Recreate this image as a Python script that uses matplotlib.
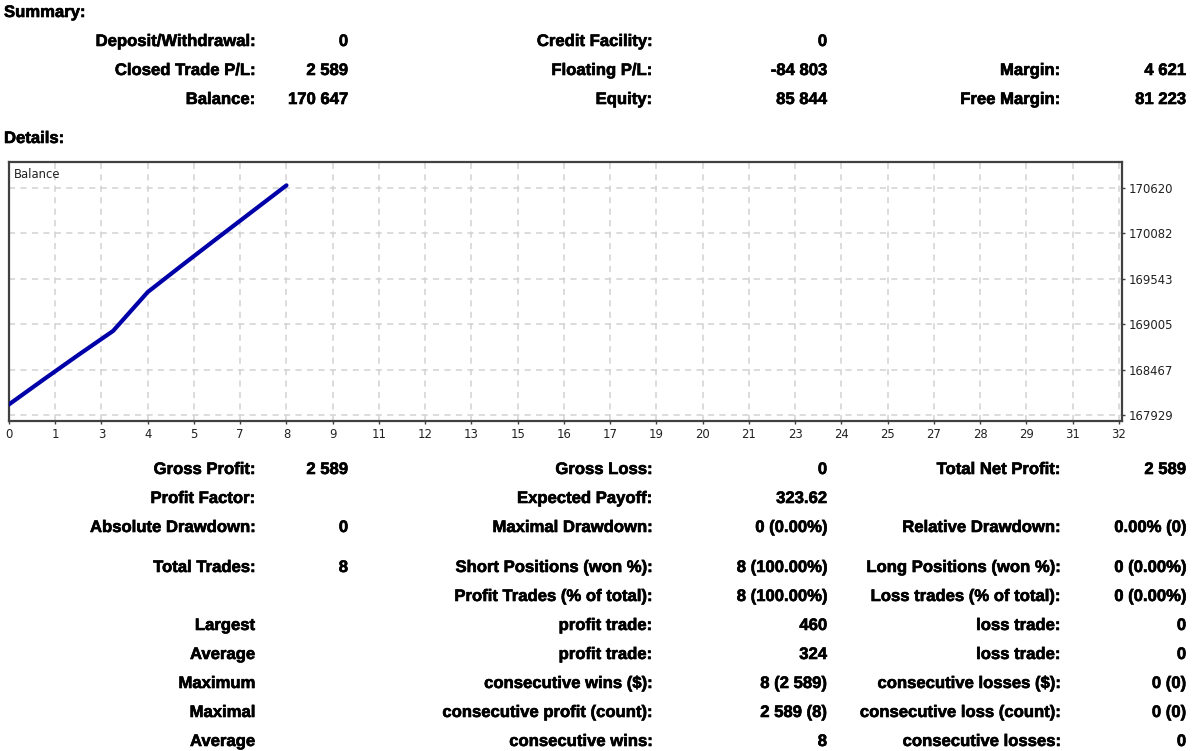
import matplotlib
matplotlib.use("Agg")
import matplotlib.pyplot as plt
import matplotlib.patheffects as pe
from matplotlib.ticker import FixedLocator, FixedFormatter

W, H = 1200, 751

# balance curve: deposit balance before trading and profit of each closed trade
start_balance = 168058
trade_profits = [295, 290, 283, 460, 320, 315, 313, 313]
trade_index = list(range(len(trade_profits) + 1))

x_ticks = [i * 4 / 3 for i in range(25)]
x_tick_labels = ["0", "1", "3", "4", "5", "7", "8", "9", "11", "12", "13", "15", "16",
                 "17", "19", "20", "21", "23", "24", "25", "27", "28", "29", "31", "32"]
y_ticks = [167929, 168467, 169005, 169543, 170082, 170620]

summary_rows = [
    ["Deposit/Withdrawal:", "0", "Credit Facility:", "0", "", ""],
    ["Closed Trade P/L:", "2 589", "Floating P/L:", "-84 803", "Margin:", "4 621"],
    ["Balance:", "170 647", "Equity:", "85 844", "Free Margin:", "81 223"],
]

details_rows = [
    ["Gross Profit:", "2 589", "Gross Loss:", "0", "Total Net Profit:", "2 589"],
    ["Profit Factor:", "", "Expected Payoff:", "323.62", "", ""],
    ["Absolute Drawdown:", "0", "Maximal Drawdown:", "0 (0.00%)", "Relative Drawdown:", "0.00% (0)"],
    ["Total Trades:", "8", "Short Positions (won %):", "8 (100.00%)", "Long Positions (won %):", "0 (0.00%)"],
    ["", "", "Profit Trades (% of total):", "8 (100.00%)", "Loss trades (% of total):", "0 (0.00%)"],
    ["Largest", "", "profit trade:", "460", "loss trade:", "0"],
    ["Average", "", "profit trade:", "324", "loss trade:", "0"],
    ["Maximum", "", "consecutive wins ($):", "8 (2 589)", "consecutive losses ($):", "0 (0)"],
    ["Maximal", "", "consecutive profit (count):", "2 589 (8)", "consecutive loss (count):", "0 (0)"],
    ["Average", "", "consecutive wins:", "8", "consecutive losses:", "0"],
]

FONT = ["Liberation Sans", "DejaVu Sans"]
TICK_FONT = ["DejaVu Sans"]
col_right = [255, 348, 652, 827, 1060, 1186]
summary_y = [46, 75, 104]
details_y = [474, 503, 532, 572, 601, 630, 659, 688, 717, 746]

balance = [start_balance]
for p in trade_profits:
    balance.append(balance[-1] + p)

fig = plt.figure(figsize=(W / 100, H / 100), dpi=100)
bold = [pe.withStroke(linewidth=0.45, foreground="black")]


def put(text, x, y, ha="right"):
    # y is the baseline in pixels from the top
    fig.text(x / W, 1 - y / H, text, ha=ha, va="baseline", fontsize=12.0,
             fontweight="bold", family=FONT, color="black", path_effects=bold)


put("Summary:", 4, 17, ha="left")
put("Details:", 4, 143, ha="left")
for row, y in zip(summary_rows, summary_y):
    for text, x in zip(row, col_right):
        if text:
            put(text, x, y)
for row, y in zip(details_rows, details_y):
    for text, x in zip(row, col_right):
        if text:
            put(text, x, y)

# balance chart
left, right, top, bottom = 9, 1122, 162, 421
ax = fig.add_axes([left / W, 1 - bottom / H, (right - left) / W, (bottom - top) / H])
ax.plot(trade_index, balance, color="#0000A8", lw=3.0, solid_capstyle="round",
        solid_joinstyle="round", zorder=3)
ax.set_xlim(0, 32.09)
ax.set_ylim(167862, 170923)

ax.xaxis.set_major_locator(FixedLocator(x_ticks))
ax.xaxis.set_major_formatter(FixedFormatter(x_tick_labels))
ax.yaxis.set_major_locator(FixedLocator(y_ticks))
ax.yaxis.tick_right()
ax.tick_params(axis="both", length=2, width=1, color="#404040", labelsize=8.4,
               labelcolor="#202020", pad=3)
for lab in ax.get_xticklabels() + ax.get_yticklabels():
    lab.set_family(TICK_FONT)

ax.grid(True, color="#D2D2D2", linestyle=(0, (4, 3.5)), linewidth=1.1)
for s in ax.spines.values():
    s.set_color("#404040")
    s.set_linewidth(1.6)

ax.text(5 / (right - left), 1 - 12 / (bottom - top), "Balance", transform=ax.transAxes,
        ha="left", va="center", fontsize=8.4, family=TICK_FONT, color="#202020")

fig.savefig("out.png", dpi=100)
